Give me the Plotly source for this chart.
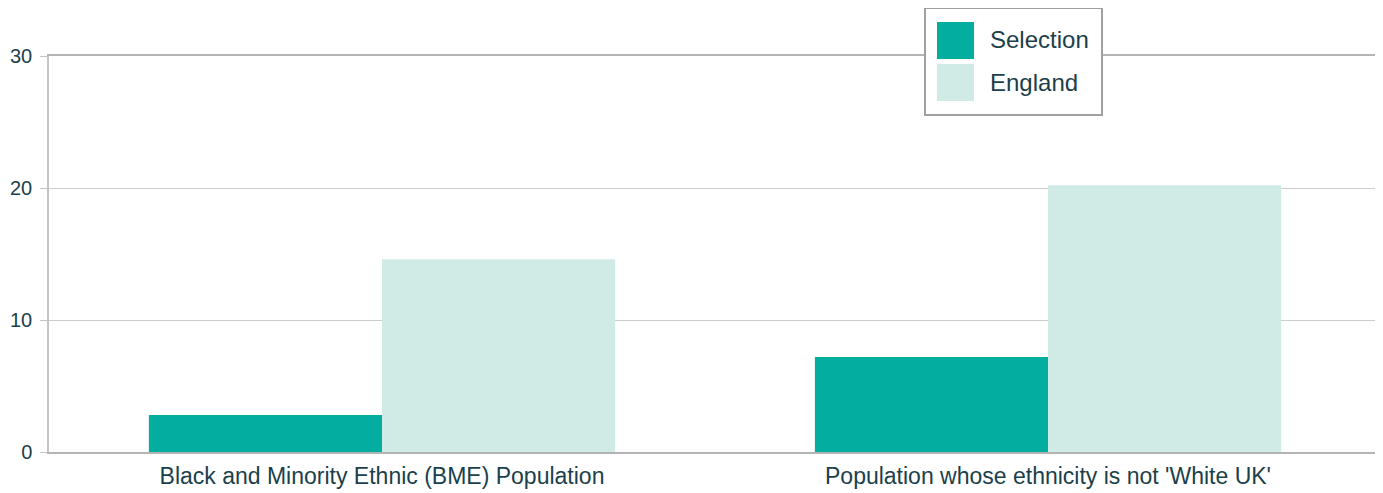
import plotly.graph_objects as go

categories = ["Black and Minority Ethnic (BME) Population", "Population whose ethnicity is not 'White UK'"]
selection = [2.8, 7.2]
england = [14.6, 20.2]
series_names = ["Selection", "England"]
colors = ["#03aea1", "#d0eae6"]
text_color = "#1b3f4b"

# page has an 8px body margin; figure coordinates are offset accordingly
OFF = 8
L, R, T, B = 49 - OFF, 2, 56 - OFF, 41
W, H = 1383 - OFF, 493 - OFF
PW, PH = W - L - R, H - T - B


def px(x):
    return (x - OFF - L) / PW


def py(y):
    return (H - B - (y - OFF)) / PH


fig = go.Figure()
fig.add_trace(go.Bar(x=categories, y=selection, name=series_names[0], marker=dict(color=colors[0], line=dict(width=0))))
fig.add_trace(go.Bar(x=categories, y=england, name=series_names[1], marker=dict(color=colors[1], line=dict(width=0))))

fig.update_layout(
    width=W, height=H,
    margin=dict(l=L, r=R, t=T, b=B),
    barmode="group", bargap=0.3, bargroupgap=0,
    plot_bgcolor="white", paper_bgcolor="white",
    showlegend=False,
    font=dict(family="Liberation Sans, Arial, sans-serif", color=text_color, size=20),
    xaxis=dict(showline=True, linecolor="#b4b4b4", linewidth=1.5, mirror=True, ticks="", showgrid=False,
               automargin=False, ticklabelstandoff=3, tickfont=dict(size=23, color=text_color)),
    yaxis=dict(range=[0, 30], tickvals=[0, 10, 20, 30], showgrid=True, gridcolor="#cccccc", gridwidth=1,
               showline=True, linecolor="#c4c4c4", linewidth=1.5, mirror=True, ticks="outside", ticklen=7,
               tickcolor="#c4c4c4", zeroline=False, automargin=False, ticklabelstandoff=4,
               tickfont=dict(size=20, color=text_color)),
)

# custom legend
fig.add_shape(type="rect", xref="paper", yref="paper", x0=px(925), x1=px(1102),
              y0=py(115), y1=py(8), line=dict(color="#a0a0a0", width=2), fillcolor="white", layer="above")
for i, (name, c) in enumerate(zip(series_names, colors)):
    top = 22 + i * 42
    fig.add_shape(type="rect", xref="paper", yref="paper", x0=px(937), x1=px(974),
                  y0=py(top + 37), y1=py(top), line=dict(width=0), fillcolor=c, layer="above")
    fig.add_annotation(xref="paper", yref="paper", x=px(988), y=py(top + 18), text=name,
                       showarrow=False, xanchor="left", yanchor="middle", font=dict(size=24, color=text_color))

fig.write_html("out.html")
